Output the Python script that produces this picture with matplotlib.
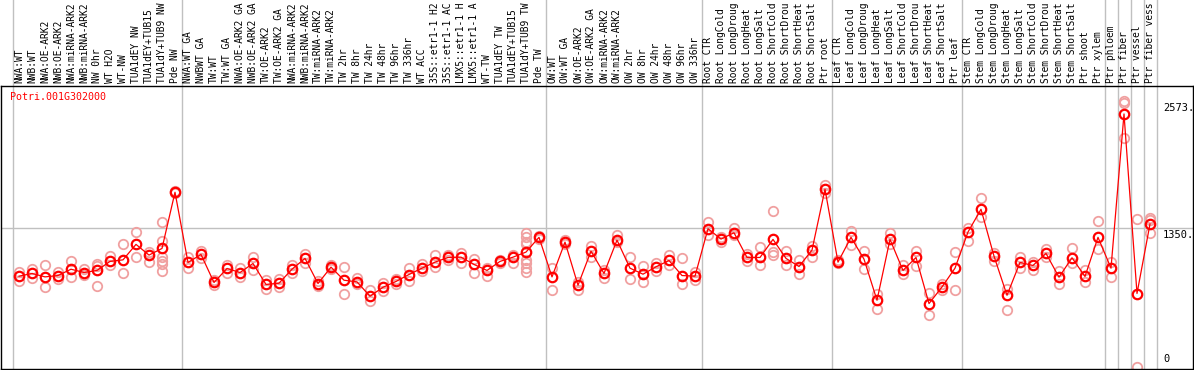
import matplotlib
matplotlib.use("Agg")
import matplotlib.pyplot as plt

plt.rcParams['font.family'] = ['DejaVu Sans Mono']

gene = "Potri.001G302000"

# labels as they appear (cut to 14 characters) in the reference
labels = [
    "NWA:WT", "NWB:WT", "NWA:OE-ARK2", "NWB:OE-ARK2", "NWA:miRNA-ARK2",
    "NWB:miRNA-ARK2", "NW 0hr", "WT H2O", "WT-NW", "TUA1dEY NW",
    "TUA1dEY+TUB15", "TUA1dY+TUB9 NW", "Pde NW",
    "NWA:WT GA", "NWBWT GA", "TW:WT", "TW:WT GA", "NWA:OE-ARK2 GA",
    "NWB:OE-ARK2 GA", "TW:OE-ARK2", "TW:OE-ARK2 GA", "NWA:miRNA-ARK2",
    "NWB:miRNA-ARK2", "TW:miRNA-ARK2", "TW:miRNA-ARK2", "TW 2hr", "TW 8hr",
    "TW 24hr", "TW 48hr", "TW 96hr", "TW 336hr", "WT ACC",
    "35S::etr1-1 H2", "35S::etr1-1 AC", "LMX5::etr1-1 H",
    "LMX5::etr1-1 A", "WT-TW", "TUA1dEY TW", "TUA1dEY+TUB15",
    "TUA1dY+TUB9 TW", "Pde TW",
    "OW:WT", "OW:WT GA", "OW:OE-ARK2", "OW:OE-ARK2 GA", "OW:miRNA-ARK2",
    "OW:miRNA-ARK2", "OW 2hr", "OW 8hr", "OW 24hr", "OW 48hr", "OW 96hr",
    "OW 336hr",
    "Root CTR", "Root LongCold", "Root LongDroug", "Root LongHeat",
    "Root LongSalt", "Root ShortCold", "Root ShortDrou", "Root ShortHeat",
    "Root ShortSalt", "Ptr root",
    "Leaf CTR", "Leaf LongCold", "Leaf LongDroug", "Leaf LongHeat",
    "Leaf LongSalt", "Leaf ShortCold", "Leaf ShortDrou", "Leaf ShortHeat",
    "Leaf ShortSalt", "Ptr leaf",
    "Stem CTR", "Stem LongCold", "Stem LongDroug", "Stem LongHeat",
    "Stem LongSalt", "Stem ShortCold", "Stem ShortDrou", "Stem ShortHeat",
    "Stem ShortSalt", "Ptr shoot", "Ptr xylem",
    "Ptr phloem", "Ptr fiber", "Ptr vessel", "Ptr fiber vess",
]

means = [
    889, 915, 882, 895, 956, 924, 944, 1031, 1046, 1195, 1092, 1156, 1697,
    1021, 1098, 828, 963, 924, 1011, 809, 821, 956, 1060, 818, 976, 850, 834,
    696, 782, 838, 905, 966, 1024, 1069, 1072, 1002, 944, 1031, 1072, 1121,
    1263,
    882, 1217, 802, 1130, 915, 1236, 966, 908, 979, 1040, 895, 889,
    1346, 1246, 1307, 1069, 1069, 1243, 1060, 982, 1140, 1726,
    1024, 1263, 1053, 657, 1243, 944, 1069, 625, 785, 966,
    1314, 1533, 1082, 705, 1021, 992, 1108, 879, 1066, 886, 1263,
    966, 2451, 722, 1391,
]

reps = [
    [927, 843], [959, 872], [992, 780], [927, 863], [1031, 879], [959, 898],
    [1005, 988, 792], [1082, 992], [1195, 915], [1314, 1075], [1123, 1027],
    [1413, 1227, 1069, 1037, 1002, 940], [1713, 1688],
    [1069, 963], [1133, 1060], [850, 802], [998, 915], [963, 882],
    [1075, 947], [850, 766], [857, 785], [998, 915], [1101, 1017],
    [843, 795], [995, 956], [976, 722], [872, 811], [751, 650], [824, 744],
    [860, 809], [966, 843], [1005, 940], [1092, 973], [1095, 1043],
    [1108, 1017], [1050, 915], [963, 895], [1043, 1011], [1089, 1017],
    [1307, 1263, 1220, 1195, 1043, 1011, 963, 930], [1275, 1249],
    [963, 760], [1236, 1198], [834, 760], [1179, 1069], [947, 872],
    [1282, 1220], [1069, 857], [985, 828], [1011, 934], [1092, 995],
    [1063, 814], [930, 850],
    [1410, 1285], [1268, 1220], [1352, 1285], [1101, 1037], [1166, 995],
    [1514, 1123, 1089], [1133, 998], [1043, 911], [1179, 1075], [1768, 1688],
    [1043, 1011], [1323, 1188], [1130, 956], [722, 570], [1301, 1198],
    [995, 908], [1133, 985], [727, 519], [818, 760], [1123, 760],
    [1355, 1230], [1639, 1462], [1108, 1034], [770, 567], [1075, 969],
    [1027, 953], [1150, 1075], [937, 818], [1162, 1011], [947, 828],
    [1417, 1147],
    [1027, 882], [2573, 2560, 2220], [1436, 13], [1446, 1430, 1307],
]

# group separators (after these column counts)
breaks = [0, 13, 41, 53, 63, 73, 84, 85, 86, 87, 88]
ytick_vals = [0, 1350, 2573]

W, H = 1194, 370
fig = plt.figure(figsize=(W / 100, H / 100), dpi=100)
ax = fig.add_axes([1 / W, 1 / H, 1192 / W, 283.5 / H])

xs = list(range(len(means)))
ax.set_xlim(-18 / 13, 1174 / 13)
ax.set_ylim(-5, 2725)

grid_c = '#c0c0c0'
top_frac = 369 / 283.5
for b in breaks:
    ax.axvline(b - 0.5, ymin=0, ymax=top_frac, color=grid_c, lw=1,
               clip_on=False, zorder=0)
ax.axhline(1350, color=grid_c, lw=1, zorder=0)

for i, r in enumerate(reps):
    ax.plot([i] * len(r), r, 'o', ms=6.8, mfc='none', mec='#f0a0a0', mew=1.3,
            zorder=2)
ax.plot(xs, means, '-', color='#ff0000', lw=0.9, zorder=3)
ax.plot(xs, means, 'o', ms=6.8, mfc='none', mec='#ff0000', mew=1.6, zorder=4)

for i, lab in enumerate(labels):
    ax.text(i, 2745, lab, rotation=90, ha='center', va='bottom',
            fontsize=6.9, clip_on=False)

x_lab = 1144 / 13
for v in ytick_vals:
    if v == 0:
        ax.text(x_lab, v + 45, "0", ha='left', va='bottom', fontsize=7.5)
    else:
        ax.text(x_lab, v - 20, str(v) + ".", ha='left', va='top',
                fontsize=7.5)

ax.text(-9 / 13, 2612, gene, color='#ff0000', ha='left', va='center',
        fontsize=7.2)

ax.set_xticks([])
ax.set_yticks([])
for s in ax.spines.values():
    s.set_color('black')
    s.set_linewidth(1)

fig.savefig("out.png", dpi=100)
